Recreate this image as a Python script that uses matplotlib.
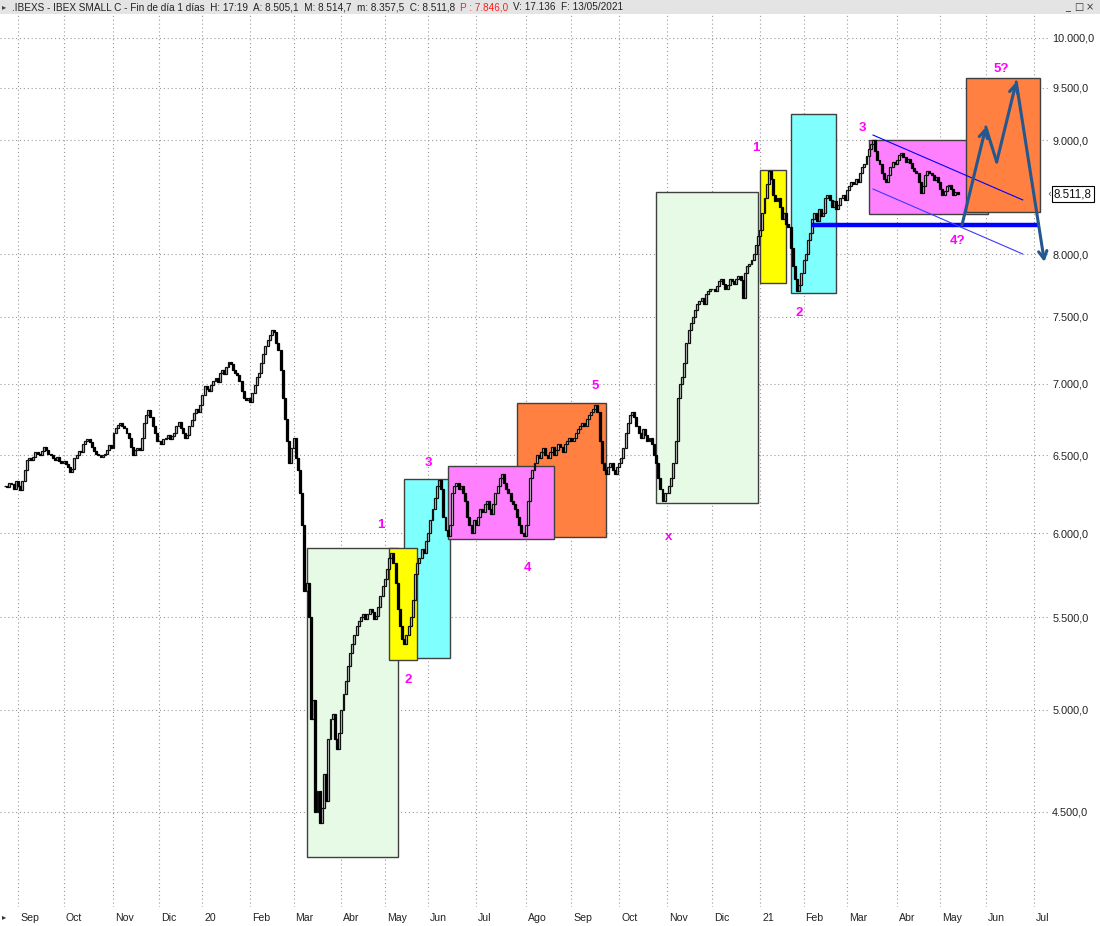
import matplotlib
matplotlib.use("Agg")
import matplotlib.pyplot as plt
import matplotlib.transforms as mtransforms
from matplotlib.patches import Rectangle
from matplotlib.ticker import FixedLocator, FuncFormatter, NullLocator
import numpy as np
import pandas as pd

plt.rcParams['font.family'] = ['Liberation Sans', 'DejaVu Sans']

# dias sin sesion en la bolsa (BME)
HOLIDAYS = ['2019-12-25', '2019-12-26', '2020-01-01', '2020-04-10', '2020-04-13',
            '2020-05-01', '2020-12-25', '2021-01-01', '2021-04-02', '2021-04-05']
trading_days = pd.bdate_range('2019-08-23', '2021-07-30', freq='C', holidays=HOLIDAYS)

# cierres diarios
closes_2019 = [
    6300, 6290, 6320, 6310, 6280, 6330,  # ago
    6300, 6270, 6330, 6400, 6470, 6480, 6470, 6490, 6520, 6510, 6500, 6530, 6560, 6540,
    6510, 6500, 6480, 6470, 6490, 6460, 6450,  # sep
    6460, 6440, 6420, 6390, 6410, 6480, 6500, 6530, 6520, 6580, 6600, 6610, 6590, 6560,
    6530, 6510, 6500, 6490, 6500, 6510, 6540, 6570, 6550,  # oct
    6650, 6690, 6710, 6720, 6700, 6690, 6650, 6620, 6560, 6500, 6540, 6550, 6540, 6620,
    6720, 6780, 6810, 6760, 6700, 6650, 6600,  # nov
    6600, 6580, 6610, 6620, 6640, 6610, 6630, 6650, 6700, 6730, 6690, 6650, 6620, 6640,
    6700, 6740, 6790, 6820, 6800, 6850,  # dic
]
closes_2020 = [
    6920, 6980, 6960, 6950, 6990, 7020, 7040, 7010, 7080, 7100, 7070, 7120, 7160, 7140,
    7100, 7080, 7060, 7020, 6950, 6900, 6880, 6900,  # ene
    6870, 6930, 6990, 7050, 7080, 7150, 7220, 7280, 7320, 7360, 7400, 7380, 7300, 7250,
    7100, 6900, 6750, 6600, 6450, 6550,  # feb
    6620, 6480, 6400, 6250, 6050, 5650, 5700, 5500, 4950, 5050, 4500, 4600, 4450, 4520,
    4680, 4550, 4850, 4950, 4980, 4850, 4800, 4880,  # mar
    5000, 5080, 5150, 5230, 5300, 5350, 5400, 5450, 5480, 5500, 5520, 5490, 5520, 5550,
    5530, 5490, 5510, 5560, 5620, 5680,  # abr
    5720, 5780, 5850, 5880, 5820, 5700, 5550, 5450, 5380, 5350, 5400, 5450, 5500, 5600,
    5750, 5820, 5850, 5900, 5880, 5950,  # may
    6000, 6080, 6150, 6220, 6300, 6340, 6280, 6100, 6020, 5980, 6050, 6250, 6300, 6320,
    6280, 6300, 6250, 6200, 6100, 6050, 6000, 6080,  # jun
    6050, 6100, 6150, 6130, 6180, 6200, 6150, 6120, 6180, 6250, 6300, 6350, 6380, 6320,
    6280, 6250, 6200, 6180, 6150, 6100, 6050, 6000, 5980,  # jul
    6050, 6200, 6350, 6400, 6450, 6500, 6480, 6520, 6550, 6500, 6480, 6520, 6560, 6500,
    6540, 6580, 6560, 6520, 6580, 6600, 6620,  # ago
    6600, 6620, 6650, 6680, 6700, 6720, 6700, 6750, 6780, 6800, 6820, 6850, 6800, 6600,
    6450, 6400, 6380, 6420, 6450, 6400, 6380, 6420,  # sep
    6450, 6480, 6550, 6650, 6720, 6780, 6800, 6760, 6700, 6650, 6620, 6680, 6640, 6600,
    6620, 6580, 6500, 6450, 6350, 6280, 6200, 6250,  # oct
    6250, 6300, 6350, 6450, 6600, 6900, 7000, 7050, 7150, 7300, 7400, 7450, 7500, 7550,
    7600, 7620, 7650, 7600, 7680, 7700, 7720,  # nov
    7720, 7700, 7740, 7780, 7800, 7760, 7720, 7750, 7800, 7780, 7760, 7800, 7820, 7790,
    7650, 7850, 7900, 7920, 7950, 8000, 8080, 8150,  # dic
]
closes_2021 = [
    8200, 8350, 8480, 8600, 8720, 8650, 8500, 8450, 8480, 8400, 8300, 8350, 8250, 8230,
    8050, 7900, 7800, 7700, 7750, 7850,  # ene
    7950, 8000, 8120, 8180, 8300, 8350, 8280, 8380, 8320, 8350, 8480, 8500, 8460, 8400,
    8450, 8380, 8420, 8480, 8500, 8460,  # feb
    8550, 8580, 8620, 8600, 8650, 8620, 8700, 8750, 8780, 8850, 8920, 8960, 9000, 8900,
    8820, 8780, 8700, 8650, 8620, 8680, 8750, 8800, 8780,  # mar
    8820, 8860, 8880, 8840, 8800, 8830, 8790, 8740, 8720, 8700, 8620, 8520, 8580, 8680,
    8720, 8700, 8680, 8640, 8660, 8620,  # abr
    8560, 8500, 8540, 8580, 8590, 8560, 8500, 8530, 8511.8,  # may
]

MONTH_LABELS = ['Sep', 'Oct', 'Nov', 'Dic', '20', 'Feb', 'Mar', 'Abr', 'May', 'Jun', 'Jul',
                'Ago', 'Sep', 'Oct', 'Nov', 'Dic', '21', 'Feb', 'Mar', 'Abr', 'May', 'Jun', 'Jul']
Y_TICKS = [4500, 5000, 5500, 6000, 6500, 7000, 7500, 8000, 9000, 9500, 10000]

# cajas de las ondas: (inicio, fin, minimo, maximo, color)
BOXES = [
    ('2020-03-10', '2020-05-12', 4297, 5908, '#e6fae6'),
    ('2020-05-15', '2020-06-15', 5274, 6343, '#80ffff'),
    ('2020-05-06', '2020-05-25', 5263, 5908, '#ffff00'),
    ('2020-07-28', '2020-09-23', 5976, 6861, '#ff8040'),
    ('2020-06-12', '2020-08-20', 5963, 6430, '#ff80ff'),
    ('2020-10-26', '2020-12-31', 6190, 8531, '#e6fae6'),
    ('2021-01-04', '2021-01-20', 7767, 8727, '#ffff00'),
    ('2021-01-22', '2021-02-22', 7684, 9246, '#80ffff'),
    ('2021-03-15', '2021-06-02', 8339, 9000, '#ff80ff'),
    ('2021-05-19', '2021-07-06', 8357, 9596, '#ff8040'),
]
WAVE_LABELS = [
    ('1', '2020-04-29', 6050), ('2', '2020-05-19', 5156), ('3', '2020-06-01', 6449),
    ('4', '2020-08-04', 5787), ('5', '2020-09-16', 6983), ('x', '2020-11-03', 5976),
    ('1', '2020-12-30', 8927), ('2', '2021-01-28', 7529), ('3', '2021-03-10', 9113),
    ('4?', '2021-05-13', 8110), ('5?', '2021-06-10', 9685),
]
SUPPORT = [('2021-02-05', 8245), ('2021-07-06', 8245)]
CHANNEL_UP = [('2021-03-17', 9047), ('2021-06-24', 8461)]
CHANNEL_DOWN = [('2021-03-17', 8557), ('2021-06-24', 8002)]
PROJECTION = [('2021-05-17', 8245), ('2021-06-01', 9122), ('2021-06-08', 8799),
              ('2021-06-21', 9556), ('2021-07-08', 7937)]
PROJECTION_ARROW = [True, False, True, True]


def pos(d):
    return trading_days.get_loc(pd.Timestamp(d))


def es_num(v, _=None):
    s = f"{v:,.1f}"
    return s.replace(',', 'X').replace('.', ',').replace('X', '.')


closes = np.array(closes_2019 + closes_2020 + closes_2021, dtype=float)
x = np.arange(len(closes))
opens = np.r_[closes[0], closes[:-1]]

W, H = 1100, 926
fig = plt.figure(figsize=(W / 100, H / 100), dpi=100)
fig.patch.set_facecolor('white')
ax = fig.add_axes([0, 19 / H, 1048 / W, (907 - 15) / H])

ax.set_yscale('log')
ax.set_ylim(4079, 10240)
px_day = 2.17
ax.set_xlim(-5 / px_day, (1048 - 5) / px_day)

# cajas
for start, end, lo, hi, col in BOXES:
    x0, x1 = pos(start), pos(end)
    ax.add_patch(Rectangle((x0, lo), x1 - x0, hi - lo, facecolor=col,
                           edgecolor='#404040', linewidth=1.0, zorder=1))

# velas
up = closes >= opens
ax.bar(x[up], (closes - opens)[up], bottom=opens[up], width=0.9, color='#d8d8d8',
       edgecolor='#111111', linewidth=0.9, zorder=3)
ax.bar(x[~up], (opens - closes)[~up], bottom=closes[~up], width=0.9, color='black',
       edgecolor='black', linewidth=0.9, zorder=3)

# soporte y canal
ax.plot([pos(d) for d, _ in SUPPORT], [p for _, p in SUPPORT], color='#0000ff', lw=3.2,
        solid_capstyle='butt', zorder=4)
ax.plot([pos(d) for d, _ in CHANNEL_UP], [p for _, p in CHANNEL_UP], color='#0000ff',
        lw=0.8, zorder=4)
ax.plot([pos(d) for d, _ in CHANNEL_DOWN], [p for _, p in CHANNEL_DOWN], color='#3a3aff',
        lw=0.8, zorder=4)

# proyeccion
pts = [(pos(d), p) for d, p in PROJECTION]
for (p0, p1), arrow in zip(zip(pts[:-1], pts[1:]), PROJECTION_ARROW):
    style = '->,head_length=0.55,head_width=0.3' if arrow else '-'
    ax.annotate('', xy=p1, xytext=p0, zorder=5,
                arrowprops=dict(arrowstyle=style, color='#24578f', lw=2.2,
                                shrinkA=0, shrinkB=0, capstyle='round'))

for txt, d, p in WAVE_LABELS:
    ax.text(pos(d), p, txt, color='#ff00ff', fontsize=9.5, fontweight='bold',
            ha='center', va='center', zorder=6)

# ejes
month_starts = [i for i in range(1, len(trading_days))
                if trading_days[i].month != trading_days[i - 1].month]
ax.xaxis.set_major_locator(FixedLocator(month_starts))
ax.set_xticklabels(MONTH_LABELS[:len(month_starts)])
ax.yaxis.set_major_locator(FixedLocator(Y_TICKS))
ax.yaxis.set_minor_locator(NullLocator())
ax.yaxis.set_major_formatter(FuncFormatter(es_num))
ax.yaxis.tick_right()
ax.tick_params(axis='y', length=0, pad=3, labelsize=7.8, colors='#222222')
ax.tick_params(axis='x', length=0, pad=4, labelsize=7.6, colors='#222222')
offset = mtransforms.ScaledTranslation(2 / 100, 0, fig.dpi_scale_trans)
for lbl in ax.get_xticklabels():
    lbl.set_horizontalalignment('left')
    lbl.set_transform(lbl.get_transform() + offset)
ax.set_axisbelow(True)
ax.grid(True, color='#9a9a9a', linestyle=(0, (1, 2.5)), linewidth=0.8)
for s in ax.spines.values():
    s.set_visible(False)

# etiqueta del ultimo precio
blend = mtransforms.blended_transform_factory(ax.transAxes, ax.transData)
ax.text(1.0 + 6 / 1048, closes[-1], es_num(closes[-1]), transform=blend, ha='left',
        va='center', fontsize=8.4, color='#111111', clip_on=False,
        bbox=dict(boxstyle='square,pad=0.2', fc='white', ec='black', lw=0.8))
ax.text(1.0 - 1 / 1048, closes[-1], '‹', transform=blend, ha='left', va='center',
        fontsize=7, color='#555555', clip_on=False, family='DejaVu Sans')

# barra de titulo
fig.add_artist(Rectangle((0, 1 - 14 / H), 1, 14 / H, transform=fig.transFigure,
                         facecolor='#e4e4e4', edgecolor='none', zorder=0))
fig.text(2 / W, 1 - 7 / H, '▸', fontsize=6, va='center', color='#444444', family='DejaVu Sans')
parts = [('.IBEXS - IBEX SMALL C - Fin de día 1 días  H: 17:19  A: 8.505,1  M: 8.514,7  '
          'm: 8.357,5  C: 8.511,8', '#222222'),
         ('P : 7.846,0', '#ff2020'),
         ('V: 17.136  F: 13/05/2021', '#222222')]
renderer = fig.canvas.get_renderer()
xpos = 12
for txt, col in parts:
    t = fig.text(xpos / W, 1 - 7 / H, txt, fontsize=7.2, va='center', color=col)
    bb = t.get_window_extent(renderer)
    xpos = bb.x1 + 5
for xb, ch in [(1068, '_'), (1079, '□'), (1090, '×')]:
    fig.text(xb / W, 1 - 7 / H, ch, fontsize=7, va='center', ha='center',
             color='#333333', family='DejaVu Sans')
fig.text(2 / W, 1 - 917 / H, '▸', fontsize=6, va='center', color='#333333', family='DejaVu Sans')

fig.savefig('out.png', dpi=100)
